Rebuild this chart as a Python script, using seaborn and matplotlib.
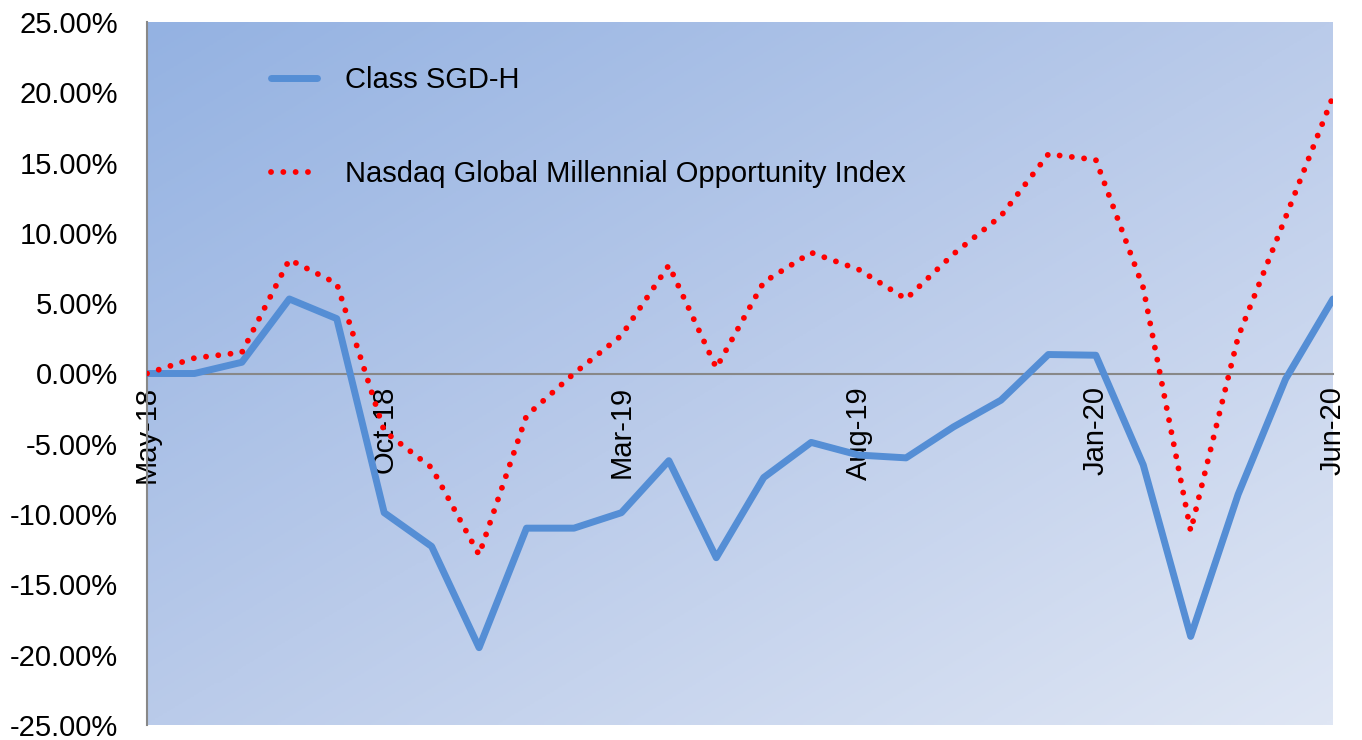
import numpy as np
import pandas as pd
import matplotlib
matplotlib.use("Agg")
import matplotlib.pyplot as plt
import seaborn as sns
from matplotlib.colors import LinearSegmentedColormap
from matplotlib.ticker import FuncFormatter

months = ["May-18", "Jun-18", "Jul-18", "Aug-18", "Sep-18", "Oct-18", "Nov-18", "Dec-18",
          "Jan-19", "Feb-19", "Mar-19", "Apr-19", "May-19", "Jun-19", "Jul-19", "Aug-19",
          "Sep-19", "Oct-19", "Nov-19", "Dec-19", "Jan-20", "Feb-20", "Mar-20", "Apr-20",
          "May-20", "Jun-20"]
class_sgd_h = [0.0, 0.0, 0.8, 5.3, 3.9, -9.9, -12.3, -19.5, -11.0, -11.0, -9.9, -6.2, -13.1,
               -7.4, -4.9, -5.8, -6.0, -3.8, -1.9, 1.35, 1.3, -6.5, -18.7, -8.6, -0.4, 5.3]
nasdaq_index = [0.0, 1.1, 1.5, 8.1, 6.4, -4.1, -6.7, -12.9, -3.0, 0.0, 2.7, 7.7, 0.4,
                6.5, 8.6, 7.4, 5.3, 8.5, 11.2, 15.6, 15.2, 6.1, -11.2, 2.6, 11.1, 19.7]

df = pd.DataFrame({"month": np.arange(len(months)),
                   "Class SGD-H": class_sgd_h,
                   "Nasdaq Global Millennial Opportunity Index": nasdaq_index})

sns.set_style("white")
plt.rcParams["font.family"] = ["Liberation Sans", "DejaVu Sans"]
plt.rcParams["text.color"] = "black"

fig = plt.figure(figsize=(13.62, 7.40), dpi=100)
ax = fig.add_axes([147 / 1362, 1 - 725 / 740, (1333 - 147) / 1362, (725 - 22) / 740])

# diagonal gradient background, darker top-left
gx, gy = np.meshgrid(np.linspace(0, 1, 300), np.linspace(0, 1, 300))
grad = (gx + gy) / 2
cmap = LinearSegmentedColormap.from_list("bg", ["#94B2E2", "#BACBEA", "#DFE6F4"])
ax.imshow(grad, extent=[0, 1, 0, 1], transform=ax.transAxes, aspect="auto",
          cmap=cmap, origin="upper", zorder=0)

sns.lineplot(data=df, x="month", y="Class SGD-H", ax=ax, color="#558ED5",
             linewidth=5, label="Class SGD-H", zorder=3)
sns.lineplot(data=df, x="month", y="Nasdaq Global Millennial Opportunity Index", ax=ax,
             color="#FF0000", linewidth=4.2, linestyle=(0, (0.01, 2.1)),
             dash_capstyle="round", label="Nasdaq Global Millennial Opportunity Index", zorder=4)

# spine position first, it resets the tick settings
ax.spines["bottom"].set_position(("data", 0))
ax.spines["bottom"].set_color("#888888")
ax.spines["bottom"].set_linewidth(1.5)
ax.spines["left"].set_color("#888888")
ax.spines["left"].set_linewidth(1.5)
ax.spines["top"].set_visible(False)
ax.spines["right"].set_visible(False)

ax.set_xlim(0, len(months) - 1)
ax.set_ylim(-25, 25)
ax.set_xlabel("")
ax.set_ylabel("")

tick_pos = list(range(0, len(months), 5))
ax.set_xticks(tick_pos)
ax.set_xticklabels([months[i] for i in tick_pos], rotation=90, fontsize=21, va="top")
ax.set_yticks(np.arange(-25, 26, 5))
ax.yaxis.set_major_formatter(FuncFormatter(lambda v, p: f"{v:.2f}%"))
ax.tick_params(axis="y", labelsize=21, length=7, color="#888888", labelcolor="black",
               width=1.2, direction="out", pad=14)
ax.tick_params(axis="x", length=7, color="#888888", labelcolor="black",
               width=1.2, direction="in", pad=9)

ax.legend(loc="upper left", bbox_to_anchor=(0.082, 0.975), frameon=False, fontsize=21,
          labelspacing=2.28, handlelength=1.6, handletextpad=0.97)

plt.savefig("out.png", dpi=100, facecolor="white")
plt.close()
